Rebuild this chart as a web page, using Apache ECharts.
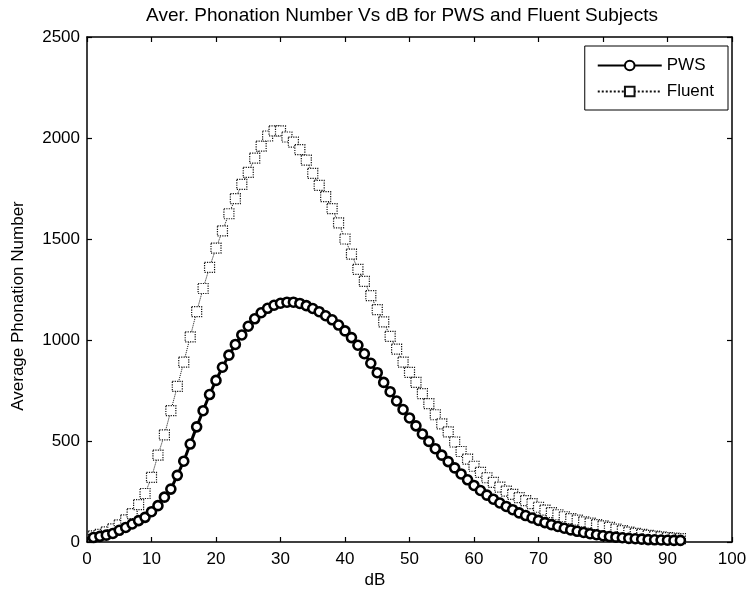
<!DOCTYPE html>
<html>
<head>
<meta charset="utf-8">
<script src="https://cdn.jsdelivr.net/npm/echarts@6/dist/echarts.min.js"></script>
<style>
html,body{margin:0;padding:0;background:#fff;}
#chart{width:750px;height:599px;}
</style>
</head>
<body>
<div id="chart"></div>
<script>
// dB values (x)
var dB = [];
for (var i = 1; i <= 92; i++) dB.push(i);

// Average phonation number, PWS subjects
var pwsValues = [
  22, 28, 34, 42, 58, 72, 89, 106, 122, 150,
  180, 222, 262, 330, 400, 485, 570, 650, 730, 800,
  865, 925, 978, 1025, 1068, 1105, 1135, 1157, 1172, 1182,
  1187, 1187, 1181, 1170, 1156, 1140, 1120, 1100, 1074, 1045,
  1012, 974, 932, 885, 838, 790, 744, 698, 656, 614,
  575, 535, 498, 462, 430, 398, 367, 337, 308, 280,
  255, 232, 212, 193, 176, 160, 144, 131, 119, 107,
  96, 86, 77, 68, 60, 53, 47, 41, 36, 31,
  27, 24, 21, 18, 16, 14, 12, 11, 10, 9,
  8, 8
];

// Average phonation number, Fluent subjects
var fluentValues = [
  30, 38, 50, 65, 85, 110, 140, 185, 240, 320,
  430, 530, 650, 770, 890, 1015, 1140, 1255, 1360, 1455,
  1540, 1625, 1700, 1770, 1830, 1900, 1960, 2010, 2035, 2035,
  2005, 1980, 1942, 1890, 1825, 1765, 1710, 1650, 1580, 1500,
  1425, 1350, 1290, 1220, 1150, 1090, 1018, 955, 890, 840,
  790, 735, 685, 630, 585, 545, 495, 448, 410, 375,
  345, 318, 295, 272, 252, 236, 220, 205, 190, 172,
  158, 145, 135, 125, 116, 108, 100, 93, 86, 80,
  72, 64, 56, 49, 43, 38, 33, 29, 25, 22,
  19, 17
];

var titleText = 'Aver. Phonation Number Vs dB for PWS and Fluent Subjects';
var xName = 'dB';
var yName = 'Average Phonation Number';
var seriesNames = ['PWS', 'Fluent'];

function pairs(xs, ys) {
  return xs.map(function (x, k) { return [x, ys[k]]; });
}

var FONT = "'Liberation Sans', Arial, sans-serif";
var chart = echarts.init(document.getElementById('chart'), null, {renderer: 'canvas'});

function hiddenAxis(extra) {
  return Object.assign({
    type: 'value',
    axisLine: {show: true, onZero: false, lineStyle: {color: '#000', width: 1.5}},
    axisTick: {show: true, inside: true, length: 5, lineStyle: {color: '#000', width: 1.2}},
    axisLabel: {show: false},
    splitLine: {show: false}
  }, extra);
}

chart.setOption({
  animation: false,
  backgroundColor: '#fff',
  legend: {
    data: seriesNames,
    orient: 'vertical',
    right: 22,
    top: 46,
    padding: [11, 14, 10, 12],
    itemGap: 9,
    itemWidth: 64,
    itemHeight: 12,
    backgroundColor: '#fff',
    borderColor: '#000',
    borderWidth: 1,
    textStyle: {fontFamily: FONT, fontSize: 17, color: '#000'}
  },
  grid: {left: 87, right: 18, top: 37, bottom: 57, containLabel: false},
  xAxis: [
    {
      type: 'value', min: 0, max: 100, interval: 10,
      axisLine: {show: true, onZero: false, lineStyle: {color: '#000', width: 1.5}},
      axisTick: {show: true, inside: true, length: 5, lineStyle: {color: '#000', width: 1.2}},
      axisLabel: {fontFamily: FONT, fontSize: 17, color: '#000', margin: 9},
      splitLine: {show: false}
    },
    hiddenAxis({min: 0, max: 100, interval: 10, position: 'top'})
  ],
  yAxis: [
    {
      type: 'value', min: 0, max: 2500, interval: 500,
      axisLine: {show: true, onZero: false, lineStyle: {color: '#000', width: 1.5}},
      axisTick: {show: true, inside: true, length: 5, lineStyle: {color: '#000', width: 1.2}},
      axisLabel: {fontFamily: FONT, fontSize: 17, color: '#000', margin: 7,
        formatter: function (v) { return String(v); }},
      splitLine: {show: false}
    },
    hiddenAxis({min: 0, max: 2500, interval: 500, position: 'right'})
  ],
  graphic: [
    {
      type: 'text', x: 402, y: 16,
      style: {text: titleText, fontFamily: FONT, fontSize: 19, fill: '#000', textAlign: 'center', textVerticalAlign: 'middle'}
    },
    {
      type: 'text', x: 375, y: 580,
      style: {text: xName, fontFamily: FONT, fontSize: 17, fill: '#000', textAlign: 'center', textVerticalAlign: 'middle'}
    },
    {
      type: 'text', x: 18, y: 306, rotation: Math.PI / 2,
      style: {text: yName, fontFamily: FONT, fontSize: 17, fill: '#000', textAlign: 'center', textVerticalAlign: 'middle'}
    }
  ],
  series: [
    {
      name: 'Fluent',
      type: 'line',
      data: pairs(dB, fluentValues),
      symbol: 'rect',
      symbolSize: 10,
      lineStyle: {color: '#111', width: 1, type: 'dotted'},
      itemStyle: {color: '#fff', borderColor: '#111', borderWidth: 1.2, borderType: 'dotted'},
      z: 2
    },
    {
      name: 'PWS',
      type: 'line',
      data: pairs(dB, pwsValues),
      symbol: 'circle',
      symbolSize: 9,
      lineStyle: {color: '#000', width: 3},
      itemStyle: {color: '#fff', borderColor: '#000', borderWidth: 2.6},
      z: 3
    }
  ]
});
</script>
</body>
</html>
